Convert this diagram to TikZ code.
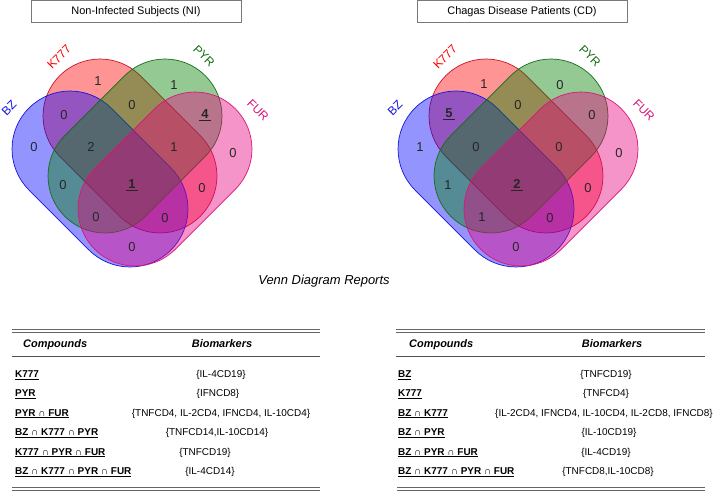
\documentclass[tikz,border=0pt]{standalone}
\usepackage{fontspec}
\setmainfont{Liberation Sans}
\definecolor{bzc}{RGB}{0,0,255}
\definecolor{bzd}{RGB}{20,20,220}
\definecolor{kc}{RGB}{255,0,0}
\definecolor{kcd}{RGB}{200,20,40}
\definecolor{pc}{RGB}{0,128,0}
\definecolor{pcd}{RGB}{20,110,20}
\definecolor{fc}{RGB}{232,0,126}
\definecolor{fcd}{RGB}{220,20,120}
\definecolor{rulec}{RGB}{100,100,100}
\definecolor{boxc}{RGB}{120,120,120}
% #1 cx, #2 cy, #3 angle, #4 radius, #5 fill, #6 draw
\newcommand\stadium[6]{%
  \begin{scope}[shift={(#1,#2)}, rotate=#3]
    \path[draw=#6, fill=#5, fill opacity=0.42, line width=0.7bp]
      (-42.4,#4) -- (42.4,#4) arc[start angle=90,end angle=-90,radius=#4]
      -- (-42.4,-#4) arc[start angle=270,end angle=90,radius=#4] -- cycle;
  \end{scope}}
\newcommand\ulnum[1]{\underline{\textbf{\,#1\,}}}
\begin{document}
\begin{tikzpicture}[x=1bp,y=-1bp,
  num/.style={font=\fontsize{13}{13}\selectfont, inner sep=0, text=black!85},
  setlab/.style={font=\fontsize{12}{12}\selectfont, inner sep=0},
  titlebox/.style={draw=boxc, line width=0.8bp, minimum width=210bp, minimum height=22bp, inner sep=0, font=\fontsize{11}{11}\selectfont},
  hdr/.style={font=\fontsize{11}{11}\selectfont\bfseries\itshape, inner sep=0},
  cmp/.style={font=\fontsize{10}{10}\selectfont\bfseries, inner sep=0, anchor=base west},
  bio/.style={font=\fontsize{10}{10}\selectfont, inner sep=0, anchor=base},
  trule/.style={draw=rulec, line width=0.8bp}]
\useasboundingbox (0,0) rectangle (720,491);
\fill[white] (0,0) rectangle (720,491);

% ---------- titles ----------
\node[titlebox] (tNI) at (136,11.6) {Non-Infected Subjects (NI)};
\node[titlebox] (tCD) at (522,11.6) {Chagas Disease Patients (CD)};

% ---------- left Venn ----------
\begin{scope}
\stadium{130}{146}{-45}{57}{kc}{kcd}
\stadium{100}{179}{-45}{58}{bzc}{bzd}
\stadium{135}{146}{45}{57}{pc}{pcd}
\stadium{165}{179}{45}{57}{fc}{fcd}
\node[setlab, text=bzd, rotate=45] (LsBZ) at (9,108) {BZ};
\node[setlab, text=kc, rotate=45] (LsK) at (59,57) {K777};
\node[setlab, text=pcd, rotate=-45] (LsP) at (204,56) {PYR};
\node[setlab, text=fcd, rotate=-45] (LsF) at (258,110) {FUR};
\node[num] (L1) at (98,81) {1};
\node[num] (L2) at (174,85) {1};
\node[num] (L3) at (64,115) {0};
\node[num] (L4) at (132,105) {0};
\node[num] (L5) at (205,115) {\ulnum{4}};
\node[num] (L6) at (34,147) {0};
\node[num] (L7) at (91,147) {2};
\node[num] (L8) at (174,147) {1};
\node[num] (L9) at (233,153) {0};
\node[num] (L10) at (63,185) {0};
\node[num] (L11) at (132,185) {\ulnum{1}};
\node[num] (L12) at (202,188) {0};
\node[num] (L13) at (96,217) {0};
\node[num] (L14) at (165,218) {0};
\node[num] (L15) at (132,247) {0};
\end{scope}

% ---------- right Venn ----------
\begin{scope}[xshift=386bp]
\stadium{130}{146}{-45}{57}{kc}{kcd}
\stadium{100}{179}{-45}{58}{bzc}{bzd}
\stadium{135}{146}{45}{57}{pc}{pcd}
\stadium{165}{179}{45}{57}{fc}{fcd}
\node[setlab, text=bzd, rotate=45] (RsBZ) at (9,108) {BZ};
\node[setlab, text=kc, rotate=45] (RsK) at (59,57) {K777};
\node[setlab, text=pcd, rotate=-45] (RsP) at (204,56) {PYR};
\node[setlab, text=fcd, rotate=-45] (RsF) at (258,110) {FUR};
\node[num] (R1) at (98,84) {1};
\node[num] (R2) at (174,85) {0};
\node[num] (R3) at (63,114) {\ulnum{5}};
\node[num] (R4) at (132,105) {0};
\node[num] (R5) at (206,115) {0};
\node[num] (R6) at (34,147) {1};
\node[num] (R7) at (90,147) {0};
\node[num] (R8) at (173,147) {0};
\node[num] (R9) at (233,153) {0};
\node[num] (R10) at (62,185) {1};
\node[num] (R11) at (131,185) {\ulnum{2}};
\node[num] (R12) at (202,188) {0};
\node[num] (R13) at (96,217) {1};
\node[num] (R14) at (164,218) {0};
\node[num] (R15) at (130,247) {0};
\end{scope}

% ---------- caption ----------
\node[inner sep=0, font=\fontsize{13}{13}\selectfont\itshape] (cap) at (324,281) {Venn Diagram Reports};

% ---------- left table ----------
\draw[trule] (12,329.3) -- (320,329.3);
\draw[trule] (12,331.9) -- (320,331.9);
\node[hdr, anchor=base west] (LhC) at (23,347) {Compounds};
\node[hdr, anchor=base] (LhB) at (222,347) {Biomarkers};
\draw[draw=rulec!80!black, line width=0.9bp] (12,356.5) -- (320,356.5);
\node[cmp] (Lc1) at (15,377.5) {\underline{K777}};
\node[bio] (Lb1) at (221,377.5) {\{IL-4CD19\}};
\node[cmp] (Lc2) at (15,396.5) {\underline{PYR}};
\node[bio] (Lb2) at (218,396.5) {\{IFNCD8\}};
\node[cmp] (Lc3) at (15,416) {\underline{PYR ∩ FUR}};
\node[bio] (Lb3) at (221,416) {\{TNFCD4, IL-2CD4, IFNCD4, IL-10CD4\}};
\node[cmp] (Lc4) at (15,435.5) {\underline{BZ ∩ K777 ∩ PYR}};
\node[bio] (Lb4) at (217,435.5) {\{TNFCD14,IL-10CD14\}};
\node[cmp] (Lc5) at (15,455) {\underline{K777 ∩ PYR ∩ FUR}};
\node[bio] (Lb5) at (205,455) {\{TNFCD19\}};
\node[cmp] (Lc6) at (15,474.5) {\underline{BZ ∩ K777 ∩ PYR ∩ FUR}};
\node[bio] (Lb6) at (210,474.5) {\{IL-4CD14\}};
\draw[trule] (12,487.6) -- (320,487.6);
\draw[trule] (12,490.2) -- (320,490.2);

% ---------- right table ----------
\draw[trule] (396,329.3) -- (705,329.3);
\draw[trule] (396,331.9) -- (705,331.9);
\node[hdr, anchor=base west] (RhC) at (409,347) {Compounds};
\node[hdr, anchor=base] (RhB) at (612,347) {Biomarkers};
\draw[draw=rulec!80!black, line width=0.9bp] (396,356.5) -- (705,356.5);
\node[cmp] (Rc1) at (398,377.5) {\underline{BZ}};
\node[bio] (Rb1) at (606,377.5) {\{TNFCD19\}};
\node[cmp] (Rc2) at (398,396.5) {\underline{K777}};
\node[bio] (Rb2) at (606,396.5) {\{TNFCD4\}};
\node[cmp] (Rc3) at (398,416) {\underline{BZ ∩ K777}};
\node[bio] (Rb3) at (604,416) {\{IL-2CD4, IFNCD4, IL-10CD4, IL-2CD8, IFNCD8\}};
\node[cmp] (Rc4) at (398,435.5) {\underline{BZ ∩ PYR}};
\node[bio] (Rb4) at (609,435.5) {\{IL-10CD19\}};
\node[cmp] (Rc5) at (398,455) {\underline{BZ ∩ PYR ∩ FUR}};
\node[bio] (Rb5) at (606,455) {\{IL-4CD19\}};
\node[cmp] (Rc6) at (398,474.5) {\underline{BZ ∩ K777 ∩ PYR ∩ FUR}};
\node[bio] (Rb6) at (608,474.5) {\{TNFCD8,IL-10CD8\}};
\draw[trule] (397,487.6) -- (705,487.6);
\draw[trule] (397,490.2) -- (705,490.2);
\end{tikzpicture}
\end{document}
